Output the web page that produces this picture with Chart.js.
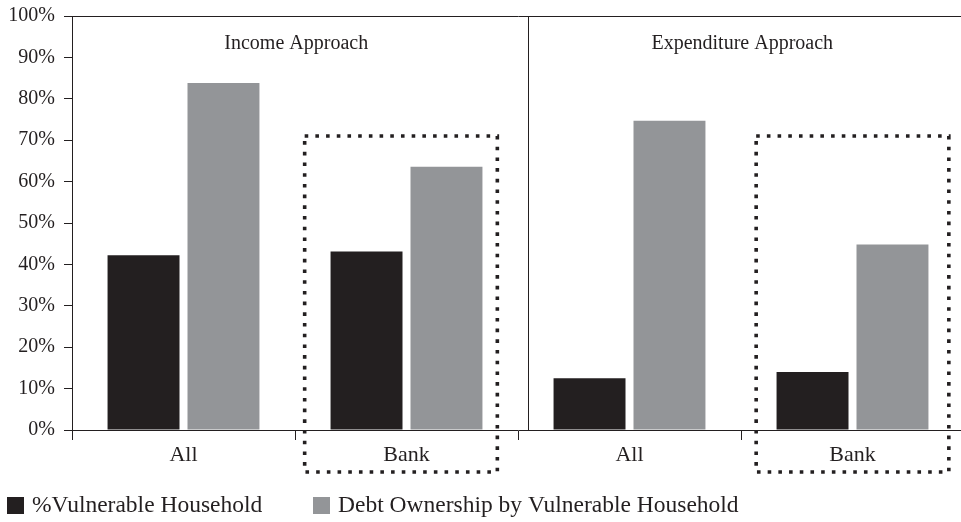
<!DOCTYPE html>
<html>
<head>
<meta charset="utf-8">
<script src="https://cdn.jsdelivr.net/npm/chart.js@4.4.1/dist/chart.umd.min.js"></script>
<style>
  html, body { margin: 0; padding: 0; background: #fff; overflow: hidden; }
  #wrap { position: relative; width: 964px; height: 527px; margin-top: -5px; }
</style>
</head>
<body>
<div id="wrap"><canvas id="c"></canvas></div>
<script>
// Household vulnerability by measurement approach
const categories = ['All', 'Bank', 'All', 'Bank'];
const vulnerableShare = [42.2, 43.1, 12.5, 14.0];
const debtOwnership = [83.8, 63.6, 74.7, 44.8];
const seriesNames = ['%Vulnerable Household', 'Debt Ownership by Vulnerable Household'];
const panelTitles = ['Income Approach', 'Expenditure Approach'];
const highlightedCategories = [1, 3];
const highlightTop = 71;

const INK = '#231f20';
const GREY = '#939598';
const FONT = "'Liberation Serif', 'DejaVu Serif', serif";

Chart.defaults.font.family = FONT;
Chart.defaults.font.size = 20;
Chart.defaults.color = INK;

const decorations = {
  id: 'decorations',
  afterDraw(chart) {
    const { ctx, chartArea: area, scales: { x, y } } = chart;
    const step = x.getPixelForValue(1) - x.getPixelForValue(0);
    const sepX = Math.round((x.getPixelForValue(1) + x.getPixelForValue(2)) / 2) + 10.5;

    ctx.save();
    // panel separator
    ctx.strokeStyle = INK;
    ctx.lineWidth = 1;
    ctx.beginPath();
    ctx.moveTo(sepX, area.top);
    ctx.lineTo(sepX, area.bottom);
    ctx.stroke();

    // panel titles
    ctx.fillStyle = INK;
    ctx.font = '20px ' + FONT;
    ctx.textAlign = 'center';
    ctx.textBaseline = 'middle';
    ctx.fillText(panelTitles[0], (area.left + sepX) / 2 - 4, area.top + 28);
    ctx.fillText(panelTitles[1], (sepX + area.right) / 2 - 4, area.top + 28);

    // dotted highlight boxes
    ctx.strokeStyle = INK;
    ctx.lineWidth = 3.6;
    ctx.setLineDash([3.6, 7.1]);
    const shift = [-5.5, 0];
    highlightedCategories.forEach((i, k) => {
      const cx = x.getPixelForValue(i) + shift[k];
      const half = step * 0.432;
      const top = y.getPixelForValue(highlightTop);
      const bottom = area.bottom + 42;
      ctx.strokeRect(cx - half, top, half * 2, bottom - top);
    });
    ctx.setLineDash([]);

    // legend
    const legendY = area.bottom + 67;
    const starts = [7, 313];
    ctx.font = '23.5px ' + FONT;
    chart.data.datasets.forEach((ds, i) => {
      ctx.fillStyle = ds.backgroundColor;
      ctx.fillRect(starts[i], legendY, 17, 17);
      ctx.fillStyle = INK;
      ctx.textAlign = 'left';
      ctx.textBaseline = 'middle';
      ctx.fillText(ds.label, starts[i] + 25, legendY + 9);
    });
    ctx.restore();
  }
};

new Chart(document.getElementById('c'), {
  type: 'bar',
  data: {
    labels: categories,
    datasets: [
      { label: seriesNames[0], data: vulnerableShare, backgroundColor: INK },
      { label: seriesNames[1], data: debtOwnership, backgroundColor: GREY }
    ]
  },
  options: {
    responsive: true,
    maintainAspectRatio: false,
    animation: false,
    events: [],
    layout: { padding: { top: 10, right: 0, bottom: 0, left: 0 } },
    datasets: { bar: { categoryPercentage: 0.717, barPercentage: 0.9 } },
    plugins: { legend: { display: false }, tooltip: { enabled: false } },
    scales: {
      x: {
        offset: true,
        grid: { offset: true, drawOnChartArea: false, drawTicks: true, tickLength: 10, tickColor: INK, tickWidth: 1 },
        border: { display: true, color: INK, width: 1 },
        ticks: { padding: 2, font: { size: 22 }, color: INK, maxRotation: 0 },
        afterFit(s) { s.height = 92; }
      },
      y: {
        min: 0,
        max: 100,
        ticks: { stepSize: 10, padding: 9, font: { size: 20 }, color: INK, callback: v => v + '%' },
        grid: {
          drawTicks: true,
          tickLength: 8,
          tickColor: INK,
          color: c => (c.tick && c.tick.value === 100 ? INK : 'rgba(0,0,0,0)'),
          lineWidth: 1
        },
        border: { display: true, color: INK, width: 1 },
        afterFit(s) { s.width = 72; }
      }
    }
  },
  plugins: [decorations]
});
</script>
</body>
</html>
